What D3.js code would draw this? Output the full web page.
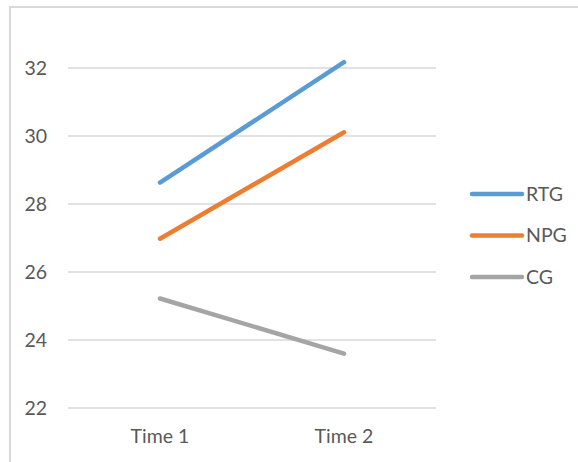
<!DOCTYPE html>
<html>
<head>
<meta charset="utf-8">
<script src="https://cdn.jsdelivr.net/npm/d3@7"></script>
<style>
  html, body { margin: 0; padding: 0; background: #fff; }
  svg { display: block; }
</style>
</head>
<body>
<svg id="chart" width="578" height="462"></svg>
<script>
// Group means at two measurement times
const categories = ["Time 1", "Time 2"];
const seriesNames = ["RTG", "NPG", "CG"];
const rtgValues = [28.63, 32.17];
const npgValues = [26.98, 30.11];
const cgValues = [25.22, 23.60];
const yTicks = [22, 24, 26, 28, 30, 32];
const colors = ["#5B9BD5", "#ED7D31", "#A5A5A5"];

const series = [rtgValues, npgValues, cgValues].map((values, i) => ({
  name: seriesNames[i],
  color: colors[i],
  values
}));

const svg = d3.select("#chart");
const font = "Lato, 'Open Sans', sans-serif";
const textColor = "#595959";
const fontSize = "19.5px";

// Chart frame (extends beyond the visible area on right and bottom)
svg.append("rect")
  .attr("x", 10).attr("y", 7)
  .attr("width", 600).attr("height", 500)
  .attr("fill", "#fff")
  .attr("stroke", "#d9d9d9")
  .attr("stroke-width", 2);

const plot = { left: 68, right: 436, top: 68, bottom: 408 };

const x = d3.scaleBand()
  .domain(categories)
  .range([plot.left, plot.right]);

const y = d3.scaleLinear()
  .domain([22, 32])
  .range([plot.bottom, plot.top]);

// Horizontal gridlines
svg.append("g")
  .selectAll("line")
  .data(yTicks)
  .join("line")
  .attr("x1", plot.left).attr("x2", plot.right)
  .attr("y1", d => y(d)).attr("y2", d => y(d))
  .attr("stroke", "#d9d9d9")
  .attr("stroke-width", 1.5);

// Y axis labels
const yAxis = svg.append("g")
  .attr("transform", `translate(${plot.left - 21},0)`)
  .call(d3.axisLeft(y).tickValues(yTicks).tickSize(0).tickPadding(0));
yAxis.select(".domain").remove();
yAxis.selectAll("text")
  .attr("fill", textColor)
  .style("font-family", font)
  .style("font-size", fontSize);

// X axis labels
const xAxis = svg.append("g")
  .attr("transform", `translate(0,${plot.bottom + 21})`)
  .call(d3.axisBottom(x).tickSize(0).tickPadding(0));
xAxis.select(".domain").remove();
xAxis.selectAll("text")
  .attr("fill", textColor)
  .attr("dy", "0.71em")
  .style("font-family", font)
  .style("font-size", fontSize);

// Series lines
const line = d3.line()
  .x((d, i) => x(categories[i]) + x.bandwidth() / 2)
  .y(d => y(d));

svg.append("g")
  .selectAll("path")
  .data(series)
  .join("path")
  .attr("d", d => line(d.values))
  .attr("fill", "none")
  .attr("stroke", d => d.color)
  .attr("stroke-width", 4.5)
  .attr("stroke-linecap", "round");

// Legend
const legend = svg.append("g")
  .selectAll("g")
  .data(series)
  .join("g")
  .attr("transform", (d, i) => `translate(472,${194 + i * 41.5})`);

legend.append("line")
  .attr("x1", 0).attr("x2", 50)
  .attr("stroke", d => d.color)
  .attr("stroke-width", 4.5)
  .attr("stroke-linecap", "round");

legend.append("text")
  .attr("x", 54)
  .attr("dy", "0.35em")
  .attr("fill", textColor)
  .style("font-family", font)
  .style("font-size", fontSize)
  .text(d => d.name);
</script>
</body>
</html>
